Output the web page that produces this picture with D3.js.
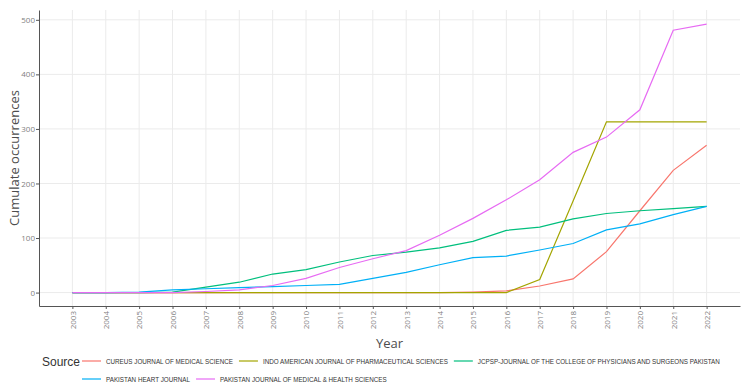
<!DOCTYPE html>
<html>
<head>
<meta charset="utf-8">
<script src="https://cdn.jsdelivr.net/npm/d3@7"></script>
<style>
	body { margin: 0; background: #fff; }
	svg { display: block; font-family: "Open Sans", sans-serif; }
	.tick text { fill: #7f7f7f; }
</style>
</head>
<body>
<div id="chart"></div>
<script>
const years = [2003, 2004, 2005, 2006, 2007, 2008, 2009, 2010, 2011, 2012,
	2013, 2014, 2015, 2016, 2017, 2018, 2019, 2020, 2021, 2022];

const sources = [
	"CUREUS JOURNAL OF MEDICAL SCIENCE",
	"INDO AMERICAN JOURNAL OF PHARMACEUTICAL SCIENCES",
	"JCPSP-JOURNAL OF THE COLLEGE OF PHYSICIANS AND SURGEONS PAKISTAN",
	"PAKISTAN HEART JOURNAL",
	"PAKISTAN JOURNAL OF MEDICAL & HEALTH SCIENCES",
];

const cureus = [0, 0, 0, 0, 0, 0, 0, 0, 0, 0, 0, 0, 1, 3, 12, 25, 75, 150, 224, 270];
const indoAmerican = [0, 0, 0, 0, 0, 0, 0, 0, 0, 0, 0, 0, 0, 0, 24, 168, 313, 313, 313, 313];
const jcpsp = [0, 0, 0, 1, 10, 19, 34, 42, 56, 68, 74, 82, 94, 114, 120, 135, 145, 150, 154, 158];
const pakHeart = [0, 0, 1, 5, 7, 9, 11, 13, 15, 26, 37, 51, 64, 67, 78, 90, 115, 126, 143, 158];
const pakMedHealth = [0, 0, 0, 0, 2, 5, 13, 26, 46, 62, 77, 105, 136, 170, 207, 257, 285, 335, 481, 492];

const yTicks = [0, 100, 200, 300, 400, 500];
const colors = ["#F8766D", "#A3A500", "#00BF7D", "#00B0F6", "#E76BF3"];

const seriesValues = [cureus, indoAmerican, jcpsp, pakHeart, pakMedHealth];
const series = sources.map((name, i) => ({
	name: name,
	color: colors[i],
	values: years.map((y, j) => ({ year: y, value: seriesValues[i][j] })),
}));

const width = 750;
const height = 392;
const margin = { top: 10, right: 10, bottom: 86, left: 39 };

const svg = d3.select("#chart")
	.append("svg")
	.attr("width", width)
	.attr("height", height);

const xScale = d3.scaleLinear()
	.domain([2002, 2023])
	.range([margin.left, width - margin.right]);

const yScale = d3.scaleLinear()
	.domain([-24.6, 518])
	.range([height - margin.bottom, margin.top]);

// grid
svg.append("g")
	.selectAll("line")
	.data(yTicks)
	.enter()
	.append("line")
	.attr("x1", margin.left)
	.attr("x2", width - margin.right)
	.attr("y1", d => yScale(d))
	.attr("y2", d => yScale(d))
	.attr("stroke", "#ebebeb")
	.attr("stroke-width", 1);

svg.append("g")
	.selectAll("line")
	.data(years)
	.enter()
	.append("line")
	.attr("x1", d => xScale(d))
	.attr("x2", d => xScale(d))
	.attr("y1", margin.top)
	.attr("y2", height - margin.bottom)
	.attr("stroke", "#ebebeb")
	.attr("stroke-width", 1);

// axes
const xAxis = svg.append("g")
	.attr("transform", `translate(0, ${height - margin.bottom})`)
	.call(d3.axisBottom(xScale).tickValues(years).tickFormat(d3.format("d")).tickSize(3).tickSizeOuter(0));
xAxis.select(".domain").attr("stroke", "#555");
xAxis.selectAll(".tick line").attr("stroke", "#555");
xAxis.selectAll(".tick text")
	.attr("font-size", "8px")
	.attr("font-family", "Open Sans, sans-serif")
	.attr("transform", "rotate(-90)")
	.attr("text-anchor", "end")
	.attr("x", -5)
	.attr("y", 0)
	.attr("dy", "0.35em");

const yAxis = svg.append("g")
	.attr("transform", `translate(${margin.left}, 0)`)
	.call(d3.axisLeft(yScale).tickValues(yTicks).tickSize(3).tickSizeOuter(0));
yAxis.select(".domain").attr("stroke", "#555");
yAxis.selectAll(".tick line").attr("stroke", "#555");
yAxis.selectAll(".tick text")
	.attr("font-size", "8px")
	.attr("font-family", "Open Sans, sans-serif")
	.attr("x", -4);

// lines
const line = d3.line()
	.x(d => xScale(d.year))
	.y(d => yScale(d.value));

svg.append("g")
	.selectAll("path")
	.data(series)
	.enter()
	.append("path")
	.attr("d", d => line(d.values))
	.attr("fill", "none")
	.attr("stroke", d => d.color)
	.attr("stroke-width", 1.2);

// axis titles
svg.append("text")
	.attr("x", (margin.left + width - margin.right) / 2)
	.attr("y", 348)
	.attr("text-anchor", "middle")
	.attr("font-size", "13px")
	.attr("fill", "#4d4d4d")
	.text("Year");

svg.append("text")
	.attr("transform", `translate(19, ${(margin.top + height - margin.bottom) / 2}) rotate(-90)`)
	.attr("text-anchor", "middle")
	.attr("font-size", "13px")
	.attr("fill", "#4d4d4d")
	.text("Cumulate occurrences");

// legend
const legend = svg.append("g");
legend.append("text")
	.attr("x", 42)
	.attr("y", 366)
	.attr("font-size", "12px")
	.attr("font-family", "Liberation Sans, Arial, sans-serif")
	.attr("fill", "#333")
	.text("Source");

const rows = [[0, 1, 2], [3, 4]];
const rowY = [361, 379];
const squeeze = 0.85; // labels are set in a narrow face
rows.forEach((row, r) => {
	let x = 82;
	row.forEach(i => {
		legend.append("line")
			.attr("x1", x)
			.attr("x2", x + 19)
			.attr("y1", rowY[r])
			.attr("y2", rowY[r])
			.attr("stroke", colors[i])
			.attr("stroke-width", 1.2);
		const t = legend.append("text")
			.attr("x", x + 24)
			.attr("y", rowY[r])
			.attr("dy", "0.35em")
			.attr("font-size", "7.4px")
			.attr("font-family", "Liberation Sans, Arial, sans-serif")
			.attr("fill", "#333")
			.text(sources[i]);
		const w = t.node().getComputedTextLength() * squeeze;
		t.attr("textLength", w).attr("lengthAdjust", "spacingAndGlyphs");
		x += 24 + w + 6;
	});
});
</script>
</body>
</html>
